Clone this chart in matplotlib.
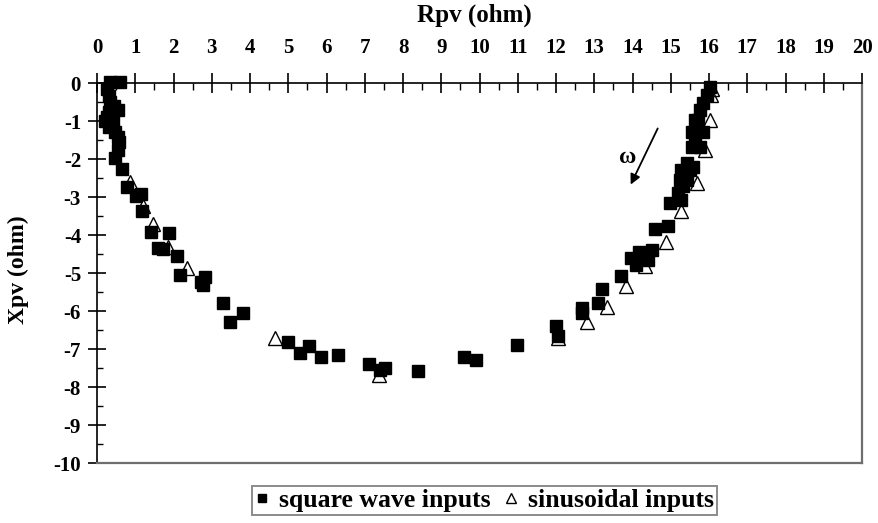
import matplotlib
matplotlib.use("Agg")
from matplotlib import pyplot as plt
from matplotlib.ticker import MultipleLocator

plt.rcParams['font.family'] = ['Liberation Serif', 'DejaVu Serif']
plt.rcParams['font.weight'] = 'bold'
plt.rcParams['axes.unicode_minus'] = False

# square wave inputs
square_r = [0.35, 0.60, 0.25, 0.30, 0.35, 0.45, 0.56, 0.30, 0.25, 0.43, 0.20, 0.40,
            0.30, 0.47, 0.56, 0.58, 0.56, 0.47, 0.64, 0.78, 1.02, 1.15, 1.17,
            1.41, 1.89, 1.60, 1.73, 2.08, 2.17, 2.72, 2.82, 2.78, 3.28, 3.82, 3.48,
            5.00, 5.53, 5.31, 5.85, 6.29, 7.11, 7.40, 7.53, 8.38, 9.60, 9.91, 10.98,
            12.00, 12.05, 12.67, 12.67, 13.11, 13.19, 13.71, 13.97, 14.09, 14.18,
            14.41, 14.52, 14.59, 14.92, 14.98, 15.28, 15.20, 15.32, 15.24, 15.42,
            15.28, 15.50, 15.59, 15.42, 15.55, 15.76, 15.55, 15.63, 15.85, 15.63,
            15.72, 15.76, 15.85, 15.94, 16.03]
square_x = [0.03, 0.02, -0.15, -0.35, -0.50, -0.60, -0.71, -0.75, -0.89, -0.97, -1.00, -1.10,
            -1.15, -1.28, -1.41, -1.54, -1.76, -1.98, -2.26, -2.73, -2.97, -2.93, -3.37,
            -3.91, -3.96, -4.33, -4.37, -4.55, -5.05, -5.23, -5.11, -5.32, -5.80, -6.04, -6.28,
            -6.81, -6.92, -7.11, -7.22, -7.16, -7.40, -7.54, -7.49, -7.58, -7.22, -7.29, -6.89,
            -6.40, -6.65, -5.93, -6.05, -5.80, -5.43, -5.07, -4.61, -4.79, -4.44,
            -4.66, -4.39, -3.85, -3.76, -3.15, -3.08, -2.90, -2.70, -2.55, -2.55,
            -2.29, -2.29, -2.20, -2.11, -1.68, -1.68, -1.28, -1.54, -1.28, -0.97,
            -0.97, -0.71, -0.53, -0.32, -0.10]

# sinusoidal inputs
sine_r = [0.86, 1.21, 1.47, 1.85, 2.34, 4.65, 7.38, 12.05, 12.82, 13.32, 13.83,
          14.33, 14.87, 15.27, 15.68, 15.90, 16.03, 16.05, 16.07]
sine_x = [-2.60, -3.23, -3.70, -4.31, -4.88, -6.72, -7.68, -6.70, -6.28, -5.90, -5.34,
          -4.82, -4.18, -3.36, -2.64, -1.76, -0.97, -0.32, -0.15]

fig = plt.figure(figsize=(8.79, 5.23), dpi=100)
ax = fig.add_axes([0.1104, 0.1147, 0.8703, 0.7266])

ax.plot(square_r, square_x, ls='none', marker='s', ms=8.7, color='black',
        clip_on=False, label='square wave inputs')
ax.plot(sine_r, sine_x, ls='none', marker='^', ms=10, mfc='none', mec='black',
        mew=1.0, clip_on=False, label='sinusoidal inputs')

ax.set_xlim(0, 20)
ax.set_ylim(-10, 0)
ax.xaxis.tick_top()
ax.xaxis.set_major_locator(MultipleLocator(1))
ax.xaxis.set_minor_locator(MultipleLocator(0.5))
ax.yaxis.set_major_locator(MultipleLocator(1))
ax.yaxis.set_minor_locator(MultipleLocator(0.5))
ax.tick_params(axis='x', which='major', direction='inout', length=14, width=1.2,
               pad=11, labelsize=15)
ax.tick_params(axis='x', which='minor', direction='in', length=5, width=1.0)
ax.tick_params(axis='y', which='major', direction='inout', length=13, width=1.2,
               pad=5, labelsize=15)
ax.tick_params(axis='y', which='minor', direction='in', length=4, width=1.0)

for side in ['top', 'left']:
    ax.spines[side].set_color('black')
    ax.spines[side].set_linewidth(1.2)
for side in ['right', 'bottom']:
    ax.spines[side].set_color('#6e6e6e')
    ax.spines[side].set_linewidth(1.6)

# frequency arrow
ax.annotate('', xy=(13.92, -2.74), xytext=(14.69, -1.13),
            arrowprops=dict(arrowstyle='-|>', color='black', lw=1.3, mutation_scale=15))
ax.text(13.88, -1.95, 'ω', fontsize=17, ha='center', va='center')

fig.text(0.540, 0.971, 'Rpv (ohm)', ha='center', va='center', fontsize=18, fontweight='bold')
fig.text(0.021, 0.484, 'Xpv (ohm)', ha='center', va='center', rotation=90,
         fontsize=17, fontweight='bold')

leg = fig.legend(loc='center', bbox_to_anchor=(0.551, 0.0430), ncol=2, fontsize=18.5,
                 frameon=True, fancybox=False, edgecolor='#6e6e6e', handlelength=0.6,
                 handletextpad=0.35, columnspacing=0.5, borderpad=0.1, markerscale=0.65)
leg.get_frame().set_linewidth(1.4)

fig.savefig('out.png', dpi=100)
